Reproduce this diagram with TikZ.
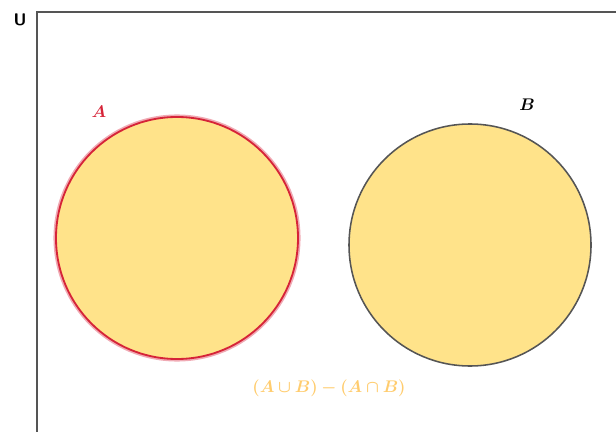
\documentclass[tikz,border=0pt]{standalone}
\usepackage{amsmath,amssymb}
\usepackage{bm}
\usepackage{xcolor}
\usepackage{tikz}

\definecolor{setfill}{RGB}{255,227,138}
\definecolor{setred}{RGB}{214,36,56}
\definecolor{setglow}{RGB}{240,170,180}
\definecolor{setgray}{RGB}{85,85,85}
\definecolor{difftext}{RGB}{255,204,110}

\begin{document}
\begin{tikzpicture}[x=0.025cm,y=-0.025cm]
      \tikzstyle{every set}=[fill=setfill]
      \tikzstyle{every label}=[font=\large]
      \useasboundingbox (0,0) rectangle (616,432);

      % Universe
      \coordinate (U-b) at (37,432);
      \coordinate (U-c) at (37,12);
      \coordinate (U-r) at (616,12);
      \draw[setgray,line width=1.4pt] (U-b) -- (U-c) -- (U-r);
      \node[font=\sffamily\bfseries\large] (U) at (20,20) {U};

      % Set A
      \coordinate (A) at (177,238);
      \draw[draw=setglow,line width=3.6pt] (A) circle (121);
      \draw[every set,draw=setred,line width=1.3pt] (A) circle (121);
      \node[every label,text=setred] (A-lab) at (99,112) {$\bm{A}$};

      % Set B
      \coordinate (B) at (470,245);
      \draw[every set,draw=setgray,line width=1.1pt] (B) circle (121);
      \node[every label] (B-lab) at (527,105) {$\bm{B}$};

      % Symmetric difference
      \node[every label,text=difftext] (D) at (329,388) {$\bm{(A\cup B)-(A\cap B)}$};
    \end{tikzpicture}
\end{document}
